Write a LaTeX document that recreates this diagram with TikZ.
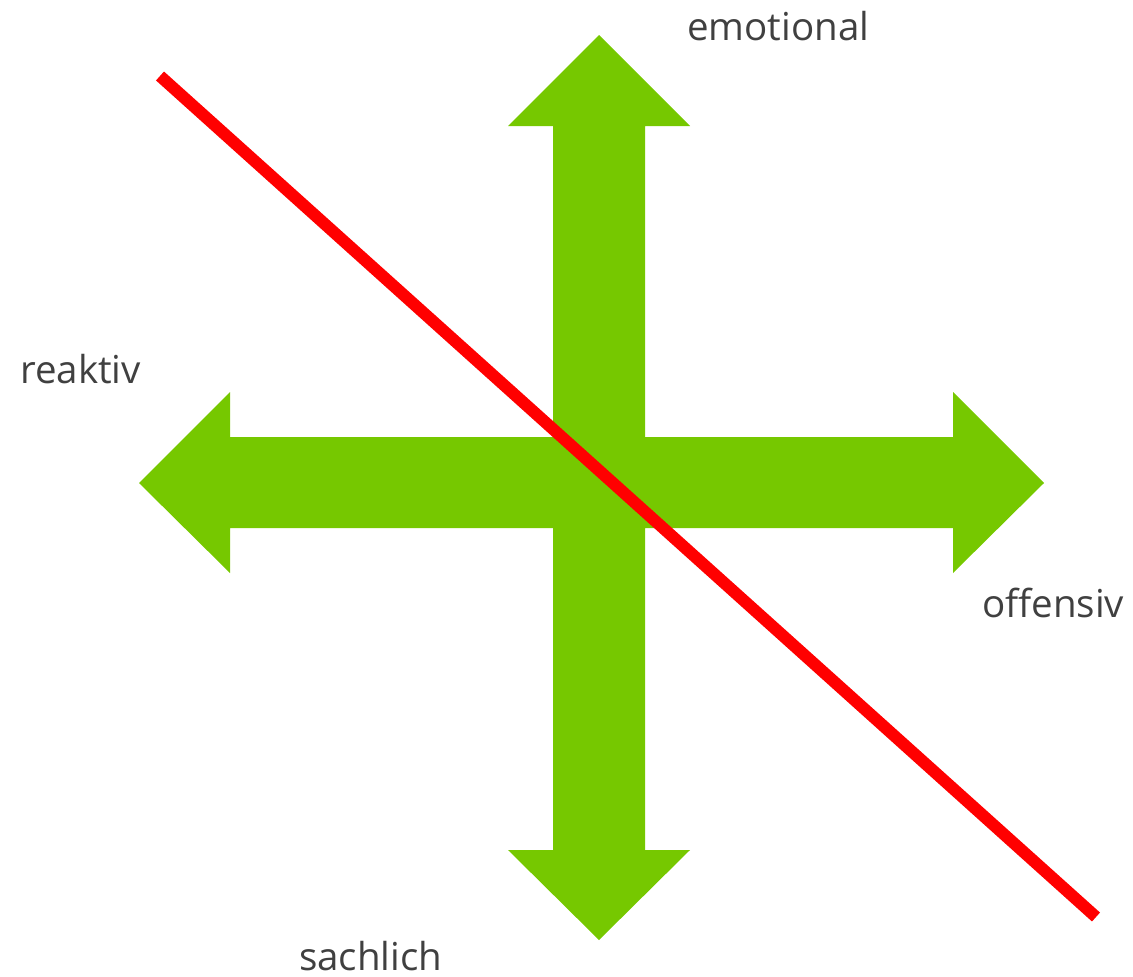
\documentclass[tikz,border=0pt]{standalone}
\usepackage{fontspec}
\setmainfont{Open Sans}
\definecolor{crossgreen}{RGB}{118,200,0}
\definecolor{labelgray}{RGB}{64,64,64}
\definecolor{cutred}{RGB}{255,0,0}
\tikzset{
  axislabel/.style={anchor=base west, inner sep=0pt, text depth=0pt, text=labelgray, font=\fontsize{38.5}{46}\selectfont}
}
\begin{document}
\begin{tikzpicture}[x=1pt,y=-1pt]
      \useasboundingbox (0,0) rectangle (1133,977);
      \fill[crossgreen]
        (599,35) -- (690,126) -- (645,126) -- (645,437) -- (953,437) -- (953,392)
        -- (1044,483) -- (953,573) -- (953,528) -- (645,528) -- (645,850) -- (690,850)
        -- (599,940) -- (508,850) -- (553,850) -- (553,528) -- (230,528) -- (230,573)
        -- (139,483) -- (230,392) -- (230,437) -- (553,437) -- (553,126) -- (508,126)
        -- cycle;
      \draw
        (687,40) node[axislabel] (up){emotional}
        (20,383) node[axislabel] (left){reaktiv}
        (982,617) node[axislabel] (right){offensiv}
        (299,970) node[axislabel] (down){sachlich};
      \coordinate (cutstart) at (160,76);
      \coordinate (cutend) at (1096,917);
      \draw[cutred, line width=12pt] (cutstart) -- (cutend);
    \end{tikzpicture}
\end{document}
